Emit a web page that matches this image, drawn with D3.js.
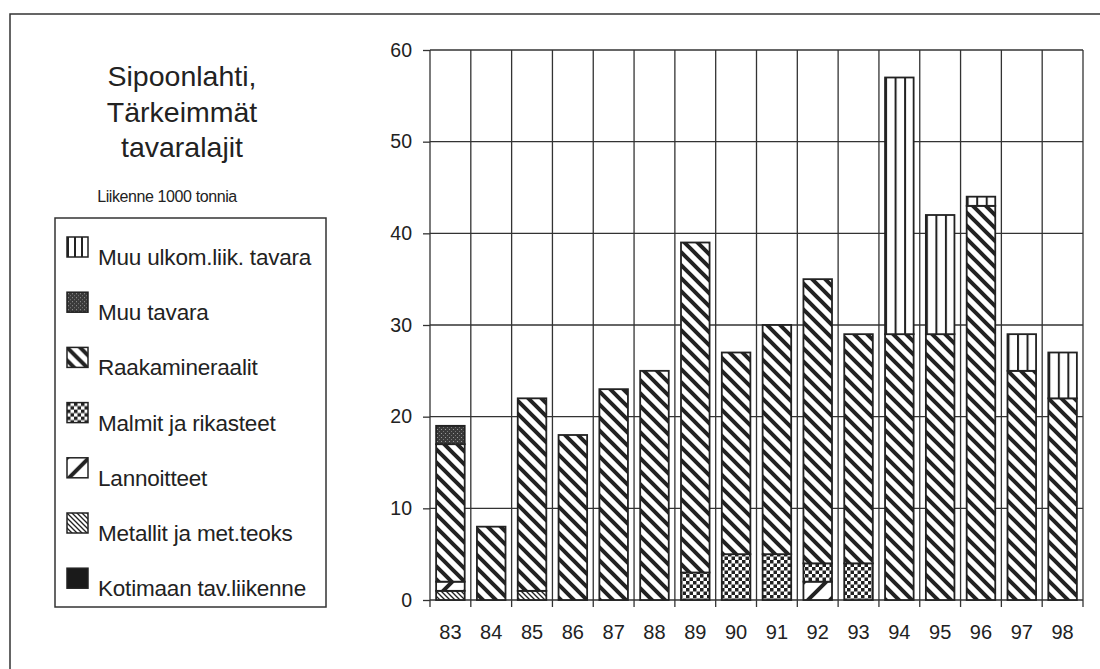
<!DOCTYPE html>
<html>
<head>
<meta charset="utf-8">
<script src="https://cdn.jsdelivr.net/npm/d3@7"></script>
<style>
  body { margin: 0; background: #fff; }
  svg { font-family: "Liberation Sans", Arial, sans-serif; }
</style>
</head>
<body>
<svg id="chart" width="1100" height="669"></svg>
<script>
// data (1000 tonnes)
var years = ['83','84','85','86','87','88','89','90','91','92','93','94','95','96','97','98'];
var kotimaan    = [0, 0, 0, 0, 0, 0, 0, 0, 0, 0, 0, 0, 0, 0, 0, 0];
var metallit    = [1, 0, 1, 0, 0, 0, 0, 0, 0, 0, 0, 0, 0, 0, 0, 0];
var lannoitteet = [1, 0, 0, 0, 0, 0, 0, 0, 0, 2, 0, 0, 0, 0, 0, 0];
var malmit      = [0, 0, 0, 0, 0, 0, 3, 5, 5, 2, 4, 0, 0, 0, 0, 0];
var raaka       = [15, 8, 21, 18, 23, 25, 36, 22, 25, 31, 25, 29, 29, 43, 25, 22];
var muuTavara   = [2, 0, 0, 0, 0, 0, 0, 0, 0, 0, 0, 0, 0, 0, 0, 0];
var muuUlkom    = [0, 0, 0, 0, 0, 0, 0, 0, 0, 0, 0, 28, 13, 1, 4, 5];
var yTicks = [0, 10, 20, 30, 40, 50, 60];

var seriesDefs = [
  {key: 'kotimaan', name: 'Kotimaan tav.liikenne', values: kotimaan, fill: '#1a1a1a'},
  {key: 'metallit', name: 'Metallit ja met.teoks', values: metallit, fill: 'url(#pMetallit)'},
  {key: 'lannoitteet', name: 'Lannoitteet', values: lannoitteet, fill: 'url(#pLannoitteet)'},
  {key: 'malmit', name: 'Malmit ja rikasteet', values: malmit, fill: 'url(#pMalmit)'},
  {key: 'raaka', name: 'Raakamineraalit', values: raaka, fill: 'url(#pRaaka)'},
  {key: 'muuTavara', name: 'Muu tavara', values: muuTavara, fill: 'url(#pMuuTavara)'},
  {key: 'muuUlkom', name: 'Muu ulkom.liik. tavara', values: muuUlkom, fill: 'url(#pMuuUlkom)'}
];

var rows = years.map(function(y, i) {
  var r = {year: y};
  seriesDefs.forEach(function(s) { r[s.key] = s.values[i]; });
  return r;
});

var svg = d3.select('#chart');
var ink = '#222';
var font = '"Liberation Sans", Arial, sans-serif';

// ---- patterns
var defs = svg.append('defs');

var p = defs.append('pattern').attr('id', 'pRaaka').attr('patternUnits', 'userSpaceOnUse')
    .attr('width', 13).attr('height', 13);
p.append('rect').attr('width', 13).attr('height', 13).attr('fill', '#fff');
p.append('path').attr('d', 'M-3,-3 L16,16 M-3,10 L3,16 M10,-3 L16,3')
    .attr('stroke', ink).attr('stroke-width', 4);

p = defs.append('pattern').attr('id', 'pLannoitteet').attr('patternUnits', 'userSpaceOnUse')
    .attr('width', 22).attr('height', 22);
p.append('rect').attr('width', 22).attr('height', 22).attr('fill', '#fff');
p.append('path').attr('d', 'M-3,25 L25,-3 M-3,3 L3,-3 M19,25 L25,19')
    .attr('stroke', ink).attr('stroke-width', 4);

p = defs.append('pattern').attr('id', 'pMetallit').attr('patternUnits', 'userSpaceOnUse')
    .attr('width', 5).attr('height', 5);
p.append('rect').attr('width', 5).attr('height', 5).attr('fill', '#fff');
p.append('path').attr('d', 'M-1,-1 L6,6 M-1,4 L1,6 M4,-1 L6,1')
    .attr('stroke', ink).attr('stroke-width', 1.3);

p = defs.append('pattern').attr('id', 'pMalmit').attr('patternUnits', 'userSpaceOnUse')
    .attr('width', 7).attr('height', 7);
p.append('rect').attr('width', 7).attr('height', 7).attr('fill', '#fff');
p.append('rect').attr('x', 0).attr('y', 0).attr('width', 3.5).attr('height', 3.5).attr('fill', ink);
p.append('rect').attr('x', 3.5).attr('y', 3.5).attr('width', 3.5).attr('height', 3.5).attr('fill', ink);

p = defs.append('pattern').attr('id', 'pMuuTavara').attr('patternUnits', 'userSpaceOnUse')
    .attr('width', 4).attr('height', 4);
p.append('rect').attr('width', 4).attr('height', 4).attr('fill', '#3a3a3a');
p.append('rect').attr('x', 1).attr('y', 1).attr('width', 1).attr('height', 1).attr('fill', '#999');
p.append('rect').attr('x', 3).attr('y', 3).attr('width', 1).attr('height', 1).attr('fill', '#777');

p = defs.append('pattern').attr('id', 'pMuuUlkom').attr('patternUnits', 'objectBoundingBox')
    .attr('width', 1 / 3).attr('height', 1);
p.append('rect').attr('width', 100).attr('height', 1000).attr('fill', '#fff');
p.append('rect').attr('x', 0).attr('width', 2).attr('height', 1000).attr('fill', ink);

// ---- outer frame
svg.append('rect').attr('x', 10).attr('y', 14).attr('width', 1110).attr('height', 680)
    .attr('fill', 'none').attr('stroke', '#333').attr('stroke-width', 1.5);

// ---- scales
var x = d3.scaleBand().domain(years).range([430, 1083]).paddingInner(0.3).paddingOuter(0.15);
var y = d3.scaleLinear().domain([0, 60]).range([600, 50]);

// grid
var grid = svg.append('g');
grid.selectAll('line.h').data(yTicks).enter().append('line')
    .attr('x1', 430).attr('x2', 1083)
    .attr('y1', function(d) { return y(d); }).attr('y2', function(d) { return y(d); })
    .attr('stroke', '#333').attr('stroke-width', 1.3);
var bounds = years.map(function(d) { return x(d) - x.step() * 0.15; }).concat([1083]);
grid.selectAll('line.v').data(bounds).enter().append('line')
    .attr('x1', function(d) { return d; }).attr('x2', function(d) { return d; })
    .attr('y1', y(60)).attr('y2', y(0) + 7)
    .attr('stroke', '#333').attr('stroke-width', 1.3);

// axes
var yAxis = svg.append('g').attr('transform', 'translate(430,0)')
    .call(d3.axisLeft(y).tickValues(yTicks).tickSize(7).tickPadding(11));
yAxis.select('.domain').remove();
yAxis.selectAll('line').attr('stroke', '#333').attr('stroke-width', 1.3);
yAxis.selectAll('text').attr('font-size', 19.5).attr('fill', '#222').attr('font-family', font);

var xAxis = svg.append('g').attr('transform', 'translate(0,' + y(0) + ')')
    .call(d3.axisBottom(x).tickSize(0).tickPadding(25));
xAxis.select('.domain').remove();
xAxis.selectAll('text').attr('font-size', 20).attr('fill', '#222').attr('font-family', font);

// bars
var stack = d3.stack().keys(seriesDefs.map(function(s) { return s.key; }));
var layers = stack(rows);

svg.append('g').selectAll('g').data(layers).enter().append('g')
    .attr('fill', function(d, i) { return seriesDefs[i].fill; })
  .selectAll('rect').data(function(d) { return d.filter(function(v) { return v[1] - v[0] > 0; }); })
  .enter().append('rect')
    .attr('x', function(d) { return x(d.data.year); })
    .attr('width', x.bandwidth())
    .attr('y', function(d) { return y(d[1]); })
    .attr('height', function(d) { return y(d[0]) - y(d[1]); })
    .attr('stroke', ink).attr('stroke-width', 1.8);

// ---- title
var title = svg.append('text').attr('text-anchor', 'middle')
    .attr('font-size', 28.5).attr('fill', '#222');
['Sipoonlahti,', 'Tärkeimmät', 'tavaralajit'].forEach(function(t, i) {
  title.append('tspan').attr('x', 182).attr('y', 86 + i * 35.5).text(t);
});
svg.append('text').attr('x', 167).attr('y', 202).attr('text-anchor', 'middle')
    .attr('font-size', 16).attr('letter-spacing', -0.4).attr('fill', '#222')
    .text('Liikenne 1000 tonnia');

// ---- legend
svg.append('rect').attr('x', 55).attr('y', 218).attr('width', 271).attr('height', 389)
    .attr('fill', 'none').attr('stroke', '#333').attr('stroke-width', 1.5);
var legendItems = seriesDefs.slice().reverse();
var lg = svg.append('g').selectAll('g').data(legendItems).enter().append('g')
    .attr('transform', function(d, i) { return 'translate(67,' + (237 + i * 55.2) + ')'; });
lg.append('rect').attr('width', 21).attr('height', 20)
    .attr('fill', function(d) { return d.fill; })
    .attr('stroke', ink).attr('stroke-width', 1.5);
lg.append('text').attr('x', 31).attr('y', 28).attr('font-size', 22.5).attr('fill', '#222')
    .attr('letter-spacing', -0.2)
    .text(function(d) { return d.name; });
</script>
</body>
</html>
